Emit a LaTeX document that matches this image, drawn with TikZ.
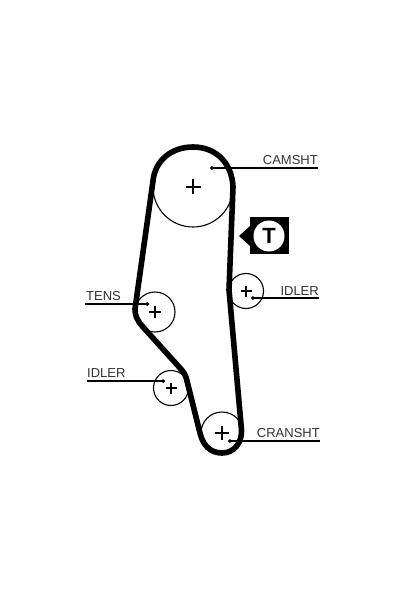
\documentclass[tikz,border=0pt]{standalone}
\usepackage{fontspec}
\setmainfont{Liberation Sans}
\usetikzlibrary{calc, arrows.meta}

\begin{document}
\begin{tikzpicture}[x = 1pt, y = -1pt]
	\tikzstyle {pulley} = [draw, circle, inner sep = 0pt, line width = 1.1pt];
	\tikzstyle {belt} = [line width = 5.6pt, line join = round];
	\tikzstyle {leader} = [line width = 1.2pt, {Circle[length = 3.6pt]}-];
	\tikzstyle {partname} = [text = black!80, font = \fontsize{13}{13}\selectfont, inner sep = 0pt];
	\useasboundingbox (0, 0) rectangle (401, 601);
	\fill[white] (0, 0) rectangle (401, 601);
	\foreach \nodename/\xpos/\ypos/\size/\arm in {camshaft/193/187/80/7.5, idlerright/246/291/35/5.5, tens/155/312/40/6, idlerleft/171/388/35/5.5, cranshaft/222/433/42/7} {
			\node[pulley, minimum size = \size pt] (\nodename) at (\xpos, \ypos) {};
			\draw[line width = 1.1pt] (\xpos - \arm, \ypos) -- (\xpos + \arm, \ypos) (\xpos, \ypos - \arm) -- (\xpos, \ypos + \arm);
		}
	% toothed belt
	\draw[belt] (153, 181) .. controls (155, 160) and (172, 147) .. (193, 147) .. controls (216, 147) and (232, 163) .. (233, 187)
		-- (229, 290) -- (241.5, 430) .. controls (242, 443) and (234, 453) .. (222, 453) .. controls (211, 453) and (203, 446) .. (200, 433)
		-- (187, 381) .. controls (186, 376) and (184, 372) .. (180, 368) -- (143, 327) .. controls (137, 320) and (135, 316) .. (135, 309) -- cycle;
	\foreach \leadername/\xa/\xb/\ypos in {camshaft/210/318/168, idlerright/251/319/298, tens/149/85/304, idlerleft/165/87/381, cranshaft/228/320/441} {
			\coordinate (\leadername a) at (\xa, \ypos);
			\coordinate (\leadername b) at (\xb, \ypos);
			\draw[leader] (\leadername a) -- (\leadername b);
		}
	\node[partname, anchor = base east] (camshaftlabel) at (318, 165) {CAMSHT};
	\node[partname, anchor = base east] (idlerrightlabel) at (319, 295) {IDLER};
	\node[partname, anchor = base west] (tenslabel) at (86, 300) {TENS};
	\node[partname, anchor = base west] (idlerleftlabel) at (87, 377) {IDLER};
	\node[partname, anchor = base east] (cranshaftlabel) at (320, 437) {CRANSHT};
	% tension mark
	\fill (250, 217) rectangle (289, 254);
	\fill (239, 236) -- (250, 226) -- (250, 246) -- cycle;
	\node[circle, fill = white, minimum size = 31pt, inner sep = 0pt, font = \fontsize{22}{22}\selectfont\bfseries] (mark) at (269, 236) {T};
\end{tikzpicture}
\end{document}
